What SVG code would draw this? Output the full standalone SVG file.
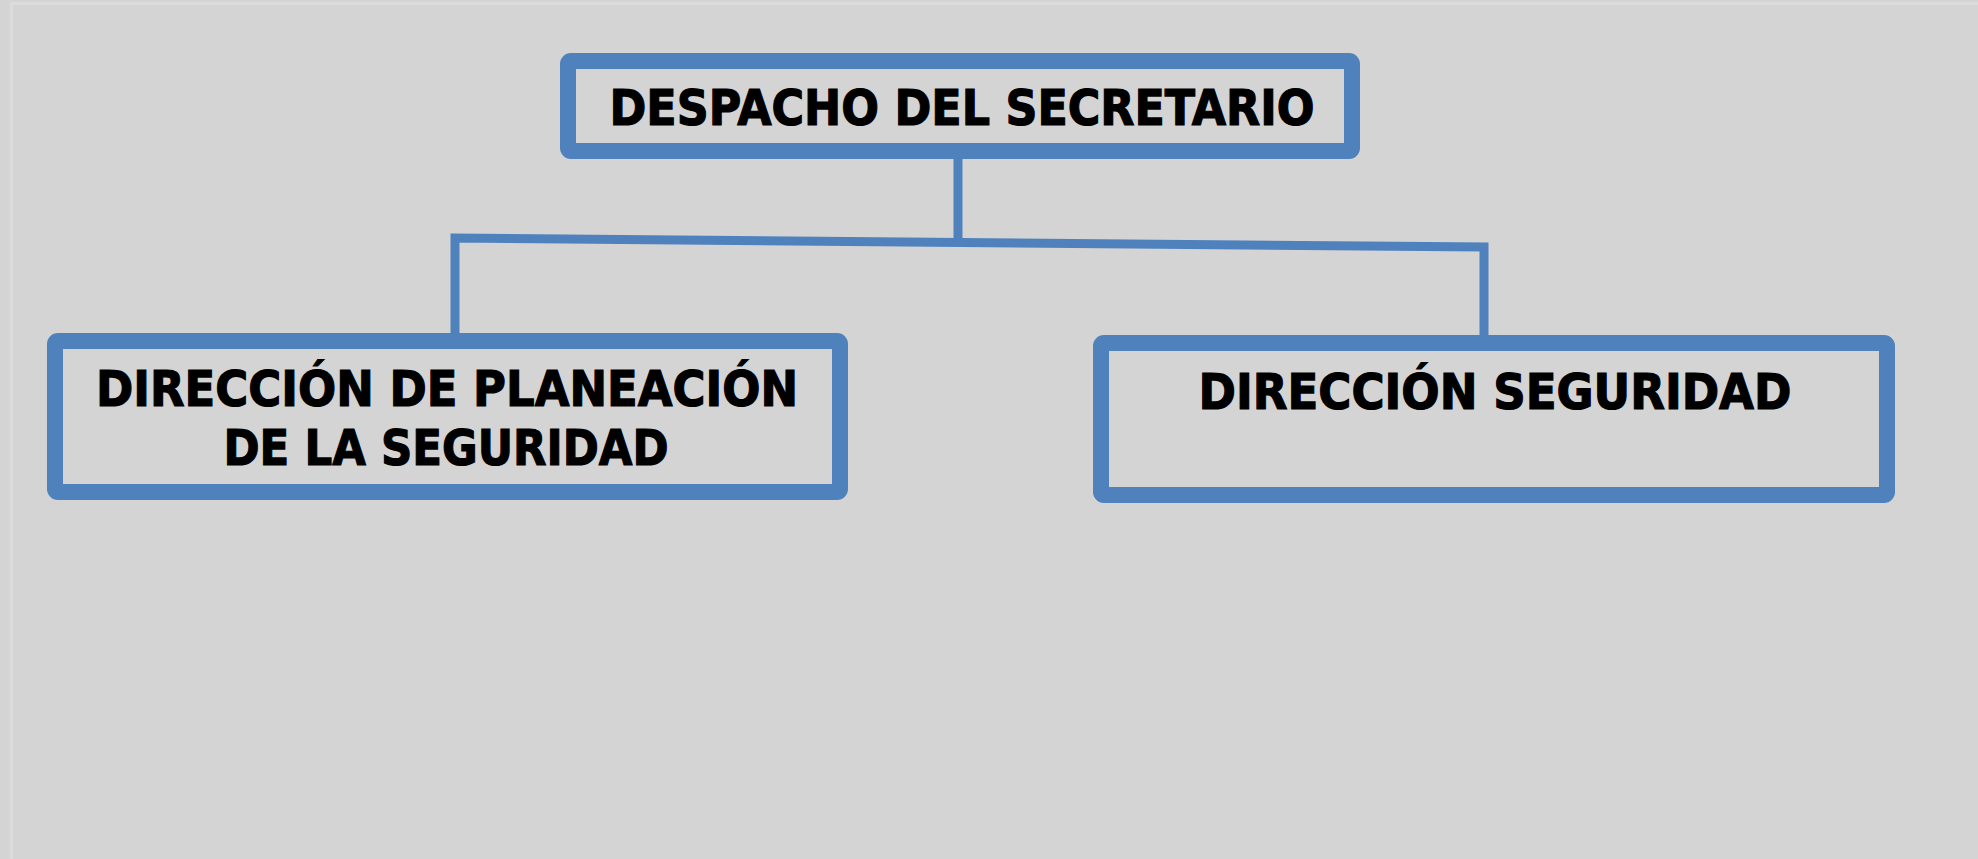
<svg xmlns="http://www.w3.org/2000/svg" width="1978" height="859" viewBox="0 0 1978 859">
<style>
.box{fill:none;stroke:#4f81bd;stroke-width:16;stroke-linejoin:round}
.lbl{font-family:"DejaVu Sans",Verdana,sans-serif;font-weight:bold;font-size:49px;fill:#000;stroke:#000;stroke-width:1.2;text-anchor:middle}
.con{fill:none;stroke:#4f81bd;stroke-width:9}
</style>
<rect width="1978" height="859" fill="#d4d4d4"/>
<rect x="11.5" y="3.5" width="2000" height="900" fill="none" stroke="#dcdcdc" stroke-width="3"/>
<g id="connectors">
<path class="con" d="M958,159 L958,242"/>
<path class="con" d="M455,334 L455,238 L1484,247 L1484,336"/>
</g>
<g id="node-despacho">
<rect class="box" x="568" y="61" width="784" height="90" rx="3"/>
<text class="lbl" x="962" y="125" textLength="705" lengthAdjust="spacingAndGlyphs">DESPACHO DEL SECRETARIO</text>
</g>
<g id="node-planeacion">
<rect class="box" x="55" y="341" width="785" height="151" rx="3"/>
<text class="lbl" x="447" y="406" textLength="702" lengthAdjust="spacingAndGlyphs">DIRECCIÓN DE PLANEACIÓN</text>
<text class="lbl" x="446" y="465" textLength="445" lengthAdjust="spacingAndGlyphs">DE LA SEGURIDAD</text>
</g>
<g id="node-seguridad">
<rect class="box" x="1101" y="343" width="786" height="152" rx="3"/>
<text class="lbl" x="1495" y="409" textLength="593" lengthAdjust="spacingAndGlyphs">DIRECCIÓN SEGURIDAD</text>
</g>
</svg>
